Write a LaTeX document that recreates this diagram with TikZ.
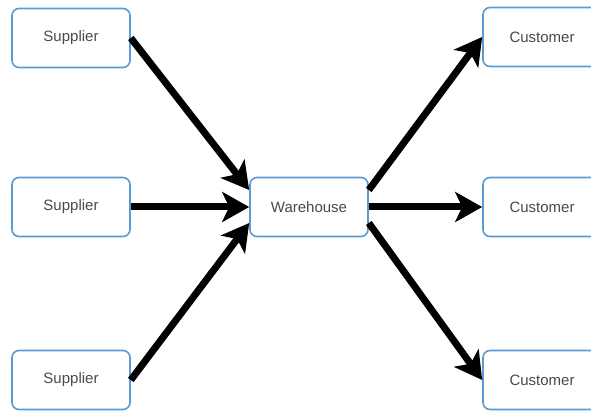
\documentclass[tikz,border=0pt]{standalone}
\usepackage{fontspec}
\setmainfont{Liberation Sans}
\usepackage{xcolor}
\usepackage{tikz}
\usetikzlibrary{arrows.meta, positioning}

\definecolor{boxblue}{HTML}{5B9BD5}
\definecolor{txtgray}{HTML}{4A4A4A}

\begin{document}
\begin{tikzpicture}[x=1pt, y=1pt,
    site/.style={draw=boxblue, line width=1.6pt, rounded corners=7pt, fill=white,
        minimum width=118pt, minimum height=59pt, inner sep=0pt,
        font=\fontsize{15}{18}\selectfont, text=txtgray},
    flow/.style={line width=7pt, -{Stealth[length=27pt, width=30pt, inset=7pt]}}]
    % 1. Khung hình
    \clip (0,0) rectangle (591,410);

    % 2. Các nút
    \node[site] (sup1) at (71,372) {Supplier};
    \node[site] (sup2) at (71,203) {Supplier};
    \node[site] (sup3) at (71,30) {Supplier};
    \node[site] (ware) at (309,203) {Warehouse};
    \node[site] (cus1) at (542,373) {Customer};
    \node[site] (cus2) at (542,203) {Customer};
    \node[site] (cus3) at (542,30) {Customer};

    % 3. Mũi tên vào kho
    \draw[flow] (sup1.east) -- ([yshift=17pt]ware.west);
    \draw[flow] (sup2.east) -- (ware.west);
    \draw[flow] (sup3.east) -- ([yshift=-16pt]ware.west);

    % 4. Mũi tên ra khách hàng
    \draw[flow] ([yshift=17pt]ware.east) -- (cus1.west);
    \draw[flow] (ware.east) -- (cus2.west);
    \draw[flow] ([yshift=-16pt]ware.east) -- (cus3.west);
\end{tikzpicture}
\end{document}
